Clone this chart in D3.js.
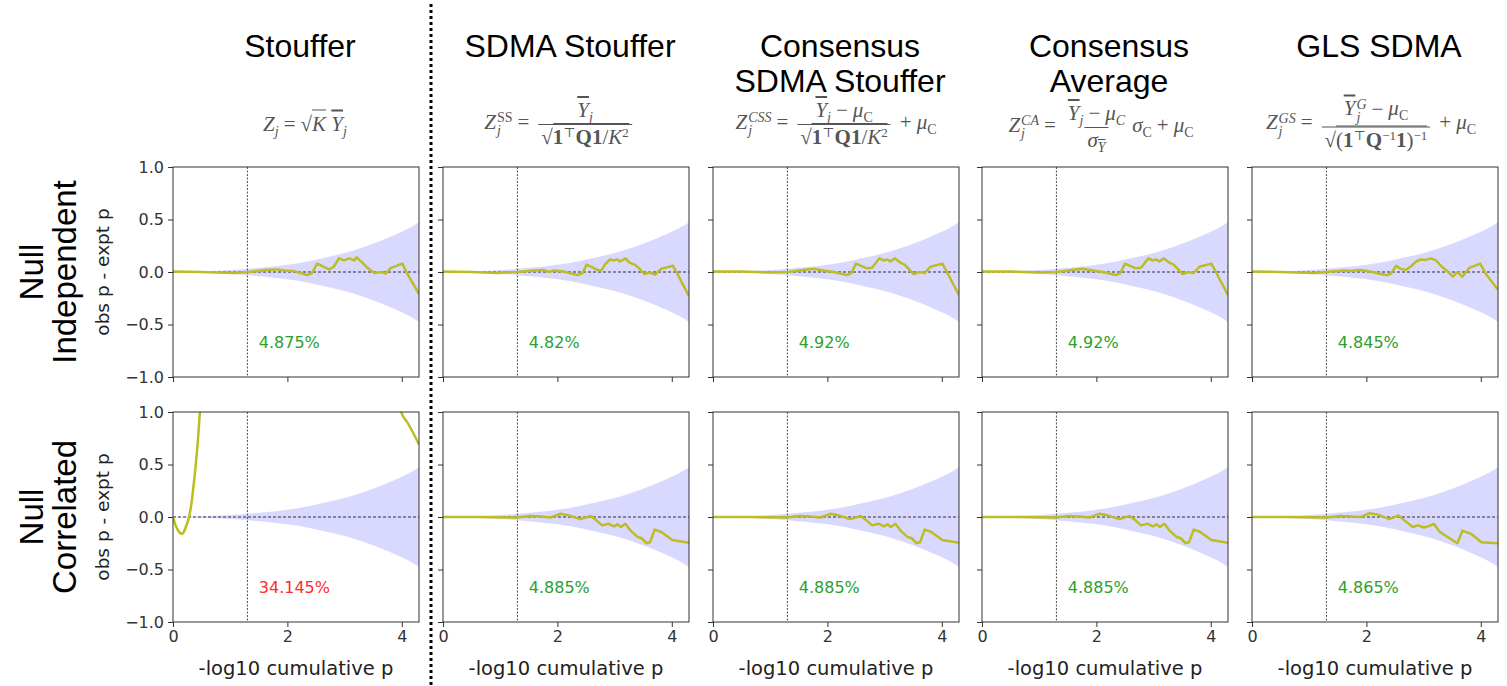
<!DOCTYPE html>
<html>
<head>
<meta charset="utf-8">
<script src="https://cdn.jsdelivr.net/npm/d3@7"></script>
<style>
  body { margin: 0; background: #fff; width: 1507px; height: 686px; overflow: hidden; position: relative; }
  svg { position: absolute; left: 0; top: 0; }
  .formula { position: absolute; font-family: "Liberation Serif", "DejaVu Serif", serif; font-size: 21px; line-height: 1; color: #555;
             white-space: nowrap; transform: translate(-50%, -50%); }
  .formula sub { font-size: 14px; vertical-align: -5px; line-height: 0; }
  .op { margin: 0 5px; }
  .frac { display: inline-flex; flex-direction: column; align-items: center; margin: 0 4px; vertical-align: middle; }
  .frac .num { padding: 0 3px 3px; }
  .frac .den { border-top: 1px solid #555; padding: 2px 3px 0; }
  .ss { display: inline-flex; flex-direction: column; font-size: 14px; line-height: 13px; margin-left: 1px; vertical-align: middle; }
  .rad { border-top: 1px solid #555; padding-top: 1px; }
  .bar { text-decoration: overline; }
  .formula b { font-style: normal; }
  .sup { font-size: 13px; vertical-align: 7px; line-height: 0; }
</style>
</head>
<body>
<div id="chart"></div>
<script>
var svgWidth = 1507;
var svgHeight = 686;

// Chart values
var titleLines = [["Stouffer"], ["SDMA Stouffer"], ["Consensus", "SDMA Stouffer"], ["Consensus", "Average"], ["GLS SDMA"]];
var rowLabels = [["Null", "Independent"], ["Null", "Correlated"]];
var yTicks = [-1, -0.5, 0, 0.5, 1];
var xTicks = [0, 2, 4];
var alphaCut = 1.301;
var indepRates = ["4.875%", "4.82%", "4.92%", "4.92%", "4.845%"];
var corrRates = ["34.145%", "4.885%", "4.885%", "4.885%", "4.865%"];

var bandX = [0, 0.5, 1.0, 1.3, 1.6, 2.0, 2.3, 2.6, 3.0, 3.3, 3.6, 3.9, 4.1, 4.301];
var bandUpper = [0.003, 0.008, 0.018, 0.03, 0.045, 0.07, 0.095, 0.13, 0.18, 0.23, 0.29, 0.36, 0.41, 0.475];
var bandLower = [-0.003, -0.008, -0.018, -0.03, -0.045, -0.07, -0.095, -0.13, -0.18, -0.23, -0.29, -0.36, -0.41, -0.475];

var stoufferIndep = [[0, 0.005], [0.5, 0], [1.06, -0.01], [1.32, 0], [1.64, 0.02], [1.82, 0.025], [1.95, 0.015],
  [2.11, 0.01], [2.35, -0.03], [2.43, -0.01], [2.52, 0.08], [2.73, 0.025], [2.81, 0.05], [2.90, 0.13], [2.99, 0.11],
  [3.08, 0.13], [3.17, 0.11], [3.21, 0.14], [3.31, 0.09], [3.40, 0.04], [3.52, -0.01], [3.63, 0], [3.72, -0.015],
  [3.81, 0.04], [4.01, 0.08], [4.09, -0.01], [4.301, -0.21]];
var sdmaIndep = [[0, 0.005], [0.5, 0], [0.94, -0.01], [1.29, 0], [1.59, 0.015], [1.76, 0.02], [1.85, 0], [1.94, 0.015],
  [2.11, 0.005], [2.35, -0.03], [2.44, -0.01], [2.51, 0.07], [2.70, 0.02], [2.77, 0.015], [2.83, 0.07], [2.92, 0.12],
  [2.98, 0.11], [3.05, 0.12], [3.09, 0.10], [3.13, 0.11], [3.19, 0.13], [3.26, 0.09], [3.35, 0.07], [3.43, 0.035],
  [3.52, -0.02], [3.61, -0.005], [3.71, -0.025], [3.81, 0.03], [4.02, 0.06], [4.10, -0.02], [4.301, -0.23]];
var consensusIndep = [[0, 0.005], [0.5, 0.005], [1.0, -0.005], [1.30, 0], [1.58, 0.02], [1.76, 0.03], [1.88, 0.02],
  [2.11, 0], [2.34, -0.03], [2.42, -0.01], [2.50, 0.08], [2.69, 0.035], [2.78, 0.04], [2.91, 0.13], [2.98, 0.11],
  [3.05, 0.12], [3.10, 0.10], [3.18, 0.13], [3.27, 0.09], [3.35, 0.07], [3.51, -0.02], [3.60, 0], [3.70, -0.01],
  [3.80, 0.05], [4.01, 0.08], [4.09, 0], [4.301, -0.22]];
var glsIndep = [[0, 0.005], [0.5, 0], [1.08, -0.01], [1.29, 0], [1.61, 0.015], [1.73, 0.01], [1.87, 0.02], [2.02, 0.01],
  [2.14, -0.005], [2.25, -0.02], [2.37, -0.03], [2.43, -0.015], [2.52, 0.06], [2.60, 0.03], [2.69, 0.02], [2.77, 0.05],
  [2.87, 0.10], [2.95, 0.12], [3.04, 0.115], [3.13, 0.13], [3.22, 0.11], [3.30, 0.06], [3.42, 0.005], [3.51, -0.045],
  [3.59, 0], [3.68, -0.045], [3.80, 0.04], [3.99, 0.08], [4.09, -0.02], [4.301, -0.17]];

var stoufferCorr = [[0, 0], [0.04, -0.07], [0.08, -0.12], [0.12, -0.15], [0.16, -0.16], [0.20, -0.13], [0.24, -0.07],
  [0.28, 0], [0.32, 0.12], [0.36, 0.3], [0.40, 0.51], [0.44, 0.76], [0.47, 1.0], [0.52, 1.4], [0.7, 2.5], [1.5, 4.0],
  [3.0, 3.5], [3.7, 2.0], [3.9, 1.25], [3.99, 1.0], [4.1, 0.9], [4.2, 0.8], [4.301, 0.69]];
var sdmaCorr = [[0, 0], [0.6, 0], [1.28, -0.005], [1.52, 0.01], [1.70, 0.005], [1.88, -0.005], [2.05, 0.03],
  [2.17, 0.02], [2.40, -0.02], [2.58, 0.01], [2.67, -0.025], [2.78, -0.08], [2.90, -0.065], [2.99, -0.09],
  [3.05, -0.07], [3.11, -0.095], [3.19, -0.065], [3.28, -0.13], [3.40, -0.19], [3.47, -0.2], [3.56, -0.25],
  [3.62, -0.24], [3.70, -0.12], [3.81, -0.14], [4.01, -0.22], [4.301, -0.245]];
var glsCorr = [[0, 0], [0.6, 0], [1.29, -0.005], [1.55, 0.01], [1.90, 0], [2.05, 0.035], [2.19, 0.025], [2.40, -0.02],
  [2.56, 0.015], [2.66, -0.03], [2.81, -0.095], [2.90, -0.08], [3.01, -0.10], [3.10, -0.085], [3.18, -0.065],
  [3.28, -0.14], [3.42, -0.19], [3.59, -0.25], [3.68, -0.13], [3.83, -0.16], [4.01, -0.24], [4.301, -0.25]];

var rowSeries = [
  [stoufferIndep, sdmaIndep, consensusIndep, consensusIndep, glsIndep],
  [stoufferCorr, sdmaCorr, sdmaCorr, sdmaCorr, glsCorr]
];
var rowRates = [indepRates, corrRates];

// Layout
var panelLefts = [173, 443, 713, 982, 1252];
var panelTops = [167, 412];
var panelW = 246;
var panelH = 210;
var lineColor = "#bcbd22";

var svg = d3.select("#chart")
  .append("svg")
  .attr("width", svgWidth)
  .attr("height", svgHeight);

var xScale = d3.scaleLinear().domain([0, 4.301]).range([0, panelW]);
var yScale = d3.scaleLinear().domain([-1, 1]).range([panelH, 0]);

var band = d3.area()
  .x(d => xScale(d[0]))
  .y0(d => yScale(d[1]))
  .y1(d => yScale(d[2]))
  .curve(d3.curveMonotoneX);
var bandData = bandX.map((x, i) => [x, bandLower[i], bandUpper[i]]);

var line = d3.line()
  .x(d => xScale(d[0]))
  .y(d => yScale(d[1]));

rowSeries.forEach(function(series, r) {
  series.forEach(function(data, c) {
    var g = svg.append("g")
      .attr("transform", `translate(${panelLefts[c]}, ${panelTops[r]})`);

    var clipId = `clip-${r}-${c}`;
    g.append("clipPath").attr("id", clipId)
      .append("rect").attr("width", panelW).attr("height", panelH);

    var inner = g.append("g").attr("clip-path", `url(#${clipId})`);

    inner.append("path")
      .datum(bandData)
      .attr("d", band)
      .attr("fill", "#0000ff")
      .attr("fill-opacity", 0.15);

    inner.append("line")
      .attr("x1", 0).attr("x2", panelW)
      .attr("y1", yScale(0)).attr("y2", yScale(0))
      .attr("stroke", "#000").attr("stroke-width", 0.8)
      .attr("stroke-dasharray", "3,2");

    inner.append("line")
      .attr("x1", xScale(alphaCut)).attr("x2", xScale(alphaCut))
      .attr("y1", 0).attr("y2", panelH)
      .attr("stroke", "#000").attr("stroke-width", 0.7)
      .attr("stroke-dasharray", "2,1.5");

    inner.append("path")
      .datum(data)
      .attr("d", r === 1 && c === 0 ? line.curve(d3.curveMonotoneX)(data) : line.curve(d3.curveLinear)(data))
      .attr("fill", "none")
      .attr("stroke", lineColor)
      .attr("stroke-width", 2.5)
      .attr("stroke-linejoin", "round");

    inner.append("text")
      .attr("x", xScale(1.5))
      .attr("y", yScale(-0.72))
      .attr("fill", r === 1 && c === 0 ? "#ff2a2a" : "#2ca02c")
      .style("font-family", "DejaVu Sans")
      .style("font-size", "16px")
      .text(rowRates[r][c]);

    // axes
    var leftAxis = d3.axisLeft(yScale).tickValues(yTicks).tickSize(5).tickPadding(4)
      .tickFormat(c === 0 ? d3.format(".1f") : "");
    var bottomAxis = d3.axisBottom(xScale).tickValues(xTicks).tickSize(5).tickPadding(4)
      .tickFormat(r === 1 ? d3.format("d") : "");

    var ya = g.append("g").call(leftAxis);
    var xa = g.append("g").attr("transform", `translate(0, ${panelH})`).call(bottomAxis);
    [ya, xa].forEach(function(a) {
      a.select(".domain").remove();
      a.selectAll("line").attr("stroke", "#333").attr("stroke-width", 1);
      a.selectAll("text").attr("fill", "#333").style("font-family", "DejaVu Sans").style("font-size", "16px");
    });
    ya.selectAll("text").text(d => d < 0 ? "\u2212" + d3.format(".1f")(-d) : d3.format(".1f")(d)).filter(() => c !== 0).remove();

    g.append("rect")
      .attr("width", panelW).attr("height", panelH)
      .attr("fill", "none").attr("stroke", "#333").attr("stroke-width", 1);

    if (r === 1) {
      g.append("text")
        .attr("x", panelW / 2).attr("y", panelH + 53)
        .attr("text-anchor", "middle")
        .attr("fill", "#222")
        .style("font-family", "DejaVu Sans").style("font-size", "19.5px")
        .text("-log10 cumulative p");
    }
  });

  // row label and y label
  var cy = panelTops[r] + panelH / 2;
  rowLabels[r].forEach(function(t, i) {
    svg.append("text")
      .attr("transform", `translate(${43 + i * 33}, ${cy}) rotate(-90)`)
      .attr("text-anchor", "middle")
      .attr("fill", "#000")
      .style("font-family", "Liberation Sans").style("font-size", "33px")
      .text(t);
  });
  svg.append("text")
    .attr("transform", `translate(109, ${cy}) rotate(-90)`)
    .attr("text-anchor", "middle")
    .attr("fill", "#222")
    .style("font-family", "DejaVu Sans").style("font-size", "18.5px")
    .text("obs p - expt p");
});

// column titles
titleLines.forEach(function(lines, c) {
  lines.forEach(function(t, i) {
    svg.append("text")
      .attr("x", panelLefts[c] + panelW / 2 + 4)
      .attr("y", 57 + i * 35)
      .attr("text-anchor", "middle")
      .attr("fill", "#000")
      .style("font-family", "Liberation Sans").style("font-size", "32px")
      .text(t);
  });
});

// dotted separator
svg.append("line")
  .attr("x1", 431).attr("x2", 431)
  .attr("y1", 4).attr("y2", svgHeight)
  .attr("stroke", "#000").attr("stroke-width", 3)
  .attr("stroke-dasharray", "3,3");

// formulas
var Yb = '<i class="bar">Y</i>';
var eq = '<span class="op">=</span>';
var plus = '<span class="op">+</span>';
var minus = '<span class="op">−</span>';
var formulas = [
  { x: 305, y: 124, html: '<i>Z</i><sub><i>j</i></sub>' + eq + '√<span class="rad"><i>K</i></span>&nbsp;' + Yb + '<sub><i>j</i></sub>' },
  { x: 560, y: 124, html: '<i>Z</i><span class="ss"><span>SS</span><i>j</i></span>' + eq + '<span class="frac"><span class="num">' + Yb + '<sub><i>j</i></sub></span><span class="den">√<span class="rad"><b>1</b><span class="sup">⊤</span><b>Q1</b>/<i>K</i><span class="sup">2</span></span></span></span>' },
  { x: 836, y: 124, html: '<i>Z</i><span class="ss"><i>CSS</i><i>j</i></span>' + eq + '<span class="frac"><span class="num">' + Yb + '<sub><i>j</i></sub>' + minus + '<i>μ</i><sub>C</sub></span><span class="den">√<span class="rad"><b>1</b><span class="sup">⊤</span><b>Q1</b>/<i>K</i><span class="sup">2</span></span></span></span>' + plus + '<i>μ</i><sub>C</sub>' },
  { x: 1101, y: 127, html: '<i>Z</i><span class="ss"><i>CA</i><i>j</i></span>' + eq + '<span class="frac"><span class="num">' + Yb + '<sub><i>j</i></sub>' + minus + '<i>μ</i><sub><i>C</i></sub></span><span class="den"><i>σ</i><sub>' + Yb + '</sub></span></span><i>σ</i><sub>C</sub>' + plus + '<i>μ</i><sub>C</sub>' },
  { x: 1371, y: 124, html: '<i>Z</i><span class="ss"><i>GS</i><i>j</i></span>' + eq + '<span class="frac"><span class="num">' + Yb + '<span class="ss"><i>G</i><i>j</i></span>' + minus + '<i>μ</i><sub>C</sub></span><span class="den">√<span class="rad">(<b>1</b><span class="sup">⊤</span><b>Q</b><span class="sup">−1</span><b>1</b>)<span class="sup">−1</span></span></span></span>' + plus + '<i>μ</i><sub>C</sub>' }
];
formulas.forEach(function(f) {
  d3.select("body").append("div")
    .attr("class", "formula")
    .style("left", f.x + "px")
    .style("top", f.y + "px")
    .html(f.html);
});
</script>
</body>
</html>
